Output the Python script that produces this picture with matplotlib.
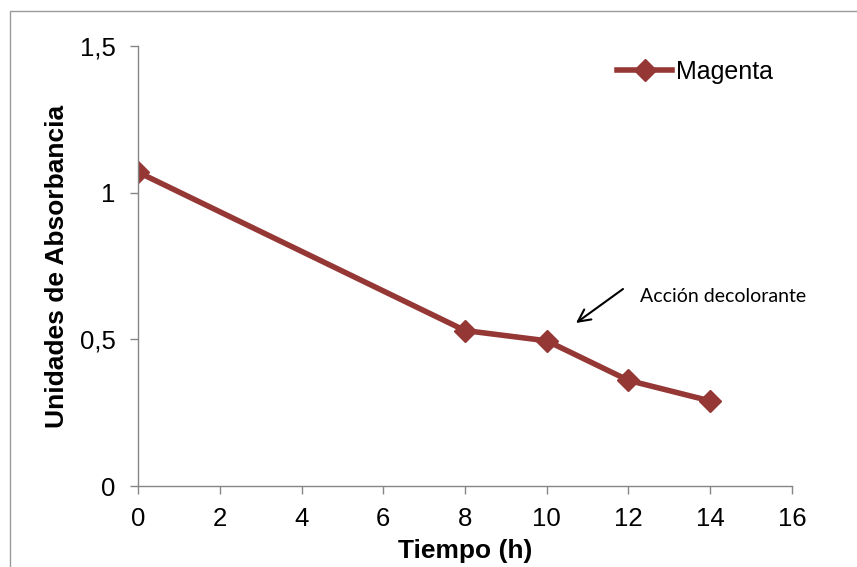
import matplotlib
matplotlib.use("Agg")
import matplotlib.pyplot as plt
from matplotlib.patches import Rectangle

# absorbance of the magenta dye over time
tiempo = [0, 8, 10, 12, 14]
absorbancia = [1.07, 0.53, 0.495, 0.36, 0.29]
serie = "Magenta"

x_ticks = [0, 2, 4, 6, 8, 10, 12, 14, 16]
y_ticks = [0, 0.5, 1, 1.5]
y_tick_labels = ["0", "0,5", "1", "1,5"]

plt.rcParams['font.family'] = ['Liberation Sans', 'DejaVu Sans']

color = '#953735'
gris = '#868686'

fig = plt.figure(figsize=(8.57, 5.67), dpi=100)
ax = fig.add_axes([138 / 857, 1 - 486 / 567, (792 - 138) / 857, (486 - 46) / 567])

# chart area border (runs off the right and bottom edges)
fig.patches.append(Rectangle((10 / 857, -0.5), 2, 1.5 - 11 / 567, transform=fig.transFigure,
                             fill=False, edgecolor='#9a9a9a', linewidth=1))

ax.plot(tiempo, absorbancia, color=color, linewidth=4, marker='D', markersize=11,
        markeredgecolor=color, label=serie)

ax.set_xlim(0, 16)
ax.set_ylim(0, 1.5)
ax.set_xticks(x_ticks)
ax.set_xticklabels([str(t) for t in x_ticks])
ax.set_yticks(y_ticks)
ax.set_yticklabels(y_tick_labels)
ax.tick_params(axis='both', direction='out', length=6, width=1, color=gris,
               labelsize=18.5)
ax.tick_params(axis='y', pad=10)
ax.tick_params(axis='x', pad=9)

for side in ['top', 'right']:
    ax.spines[side].set_visible(False)
for side in ['left', 'bottom']:
    ax.spines[side].set_color(gris)
    ax.spines[side].set_linewidth(1)

ax.set_xlabel("Tiempo (h)", fontsize=19, fontweight='bold', labelpad=6)
ax.set_ylabel("Unidades de Absorbancia", fontsize=19, fontweight='bold', labelpad=8)

ax.legend(loc='center left', bbox_to_anchor=(617 / 857, 1 - 72 / 567),
          bbox_transform=fig.transFigure, frameon=False, fontsize=18,
          handlelength=2.2, handletextpad=0.15, borderpad=0, borderaxespad=0)

# note with its arrow pointing at the 10 h point
ax.text(640, 567 - 297, "Acción decolorante", transform=None,
        fontsize=14, family=['Lato', 'DejaVu Sans'], va='center', ha='left')
ax.annotate("", xy=(576, 567 - 323), xycoords='figure pixels',
            xytext=(623, 567 - 289), textcoords='figure pixels',
            arrowprops=dict(arrowstyle='->', color='black', lw=1.5,
                            shrinkA=0, shrinkB=0, mutation_scale=22))

fig.savefig("out.png", dpi=100)
